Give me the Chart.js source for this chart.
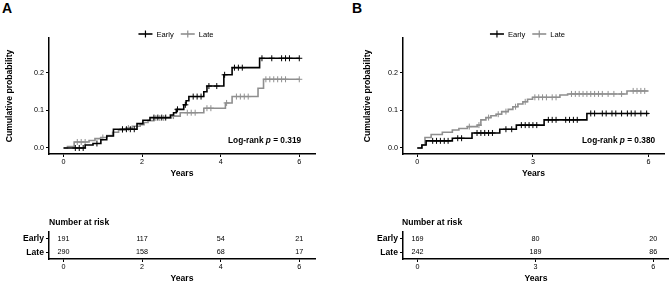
<!DOCTYPE html>
<html><head><meta charset="utf-8">
<script src="https://cdn.jsdelivr.net/npm/chart.js@4"></script>
<style>
body{margin:0;width:669px;height:285px;background:#fff;position:relative;overflow:hidden;font-family:"Liberation Sans",Arial,sans-serif;}
canvas{position:absolute;display:block;}
.lbl{position:absolute;font-weight:bold;color:#000;white-space:nowrap;line-height:1;}
</style></head><body>
<div class="lbl" style="left:2px;top:1px;font-size:14px">A</div>
<div class="lbl" style="left:352px;top:1px;font-size:14px">B</div>
<canvas id="kmA" width="330" height="180" style="left:0;top:0"></canvas>
<canvas id="kmB" width="339" height="180" style="left:330px;top:0"></canvas>
<canvas id="rkA" width="330" height="85" style="left:0;top:200px"></canvas>
<canvas id="rkB" width="339" height="85" style="left:330px;top:200px"></canvas>
<div class="lbl" style="left:228px;top:136px;font-size:8.3px">Log-rank <i>p</i> = 0.319</div>
<div class="lbl" style="left:582px;top:136px;font-size:8.3px">Log-rank <i>p</i> = 0.380</div>
<div class="lbl" style="left:49px;top:218px;font-size:8.6px">Number at risk</div>
<div class="lbl" style="left:402px;top:218px;font-size:8.6px">Number at risk</div>
<script>
// ---- data ----
const groups = ['Early', 'Late'];
const yTicks = [0, 0.1, 0.2];
const xTicksA = [0, 2, 4, 6];
const xTicksB = [0, 3, 6];

// Panel A: event times and cumulative probability (last entry = end of follow-up)
const timesEarlyA = [0, 0.55, 0.75, 0.95, 1.1, 1.27, 1.87, 2.02, 2.2, 2.72, 2.8, 2.87, 3.06, 3.12, 3.19, 3.57, 3.65, 4.08, 4.29, 4.99, 6.0];
const cumEarlyA   = [0, 0.008, 0.012, 0.022, 0.032, 0.05, 0.065, 0.074, 0.081, 0.088, 0.094, 0.103, 0.115, 0.126, 0.137, 0.15, 0.165, 0.195, 0.214, 0.239, 0.239];
const timesLateA  = [0, 0.1, 0.27, 0.65, 0.8, 0.95, 1.1, 1.25, 1.4, 1.6, 1.75, 1.95, 2.05, 2.15, 2.3, 2.75, 2.97, 3.57, 4.12, 4.29, 4.95, 5.09, 6.0];
const cumLateA    = [0, 0.004, 0.016, 0.02, 0.025, 0.028, 0.033, 0.042, 0.048, 0.053, 0.058, 0.062, 0.068, 0.073, 0.08, 0.085, 0.094, 0.106, 0.12, 0.137, 0.159, 0.183, 0.183];
const censorEarlyA = [0.3, 0.4, 0.5, 0.85, 1.5, 1.6, 1.7, 1.8, 2.3, 2.4, 2.5, 2.6, 2.9, 3.1, 3.3, 3.4, 3.5, 3.7, 3.9, 4.1, 4.35, 4.45, 4.55, 5.05, 5.3, 5.55, 5.65, 5.75, 6.0];
const censorLateA  = [0.35, 0.45, 0.55, 1.0, 1.5, 1.65, 2.35, 2.45, 2.55, 2.8, 3.15, 3.25, 3.35, 3.65, 3.75, 4.15, 4.4, 4.5, 4.6, 4.7, 5.15, 5.25, 5.35, 5.45, 5.55, 5.65, 6.0];

// Panel B
const timesEarlyB = [0, 0.12, 0.23, 0.91, 1.42, 2.14, 2.57, 3.29, 4.4, 6.0];
const cumEarlyB   = [0, 0.008, 0.019, 0.026, 0.04, 0.05, 0.061, 0.075, 0.092, 0.092];
const timesLateB  = [0, 0.12, 0.2, 0.36, 0.65, 0.91, 1.08, 1.3, 1.56, 1.65, 1.78, 1.91, 2.05, 2.19, 2.36, 2.48, 2.61, 2.74, 2.86, 2.99, 3.7, 3.9, 5.44, 6.0];
const cumLateB    = [0, 0.008, 0.028, 0.036, 0.042, 0.048, 0.052, 0.057, 0.061, 0.075, 0.081, 0.086, 0.09, 0.097, 0.103, 0.11, 0.117, 0.123, 0.13, 0.135, 0.141, 0.144, 0.152, 0.152];
const censorEarlyB = [0.4, 0.5, 0.6, 0.7, 0.8, 1.05, 1.15, 1.55, 1.65, 1.75, 1.85, 1.95, 2.3, 2.45, 2.7, 2.8, 2.9, 3.0, 3.1, 3.4, 3.5, 3.6, 3.85, 3.95, 4.05, 4.15, 4.5, 4.6, 4.8, 4.9, 5.05, 5.15, 5.3, 5.45, 5.55, 5.65, 5.8, 5.95];
const censorLateB  = [1.35, 1.6, 1.85, 2.1, 2.3, 2.55, 2.8, 3.05, 3.15, 3.25, 3.35, 3.5, 3.6, 4.0, 4.1, 4.2, 4.3, 4.4, 4.5, 4.6, 4.7, 4.8, 4.95, 5.1, 5.3, 5.6, 5.7, 5.8, 5.9];

// Number at risk
const riskTimesA = [0, 2, 4, 6];
const riskEarlyA = [191, 117, 54, 21];
const riskLateA  = [290, 158, 68, 17];
const riskTimesB = [0, 3, 6];
const riskEarlyB = [169, 80, 20];
const riskLateB  = [242, 189, 86];

// ---- styling ----
const FONT = '"Liberation Sans", Arial, sans-serif';
const COL_EARLY = '#000000';
const COL_LATE = '#8f8f8f';
const X_MIN = -0.37, X_MAX = 6.4;

function stepAt(times, cum, t) {
  let v = cum[0];
  for (let i = 0; i < times.length; i++) { if (times[i] <= t) v = cum[i]; }
  return v;
}

const legendPlugin = {
  id: 'kmLegend',
  afterDraw(chart, args, opts) {
    const ctx = chart.ctx;
    ctx.save();
    ctx.font = '7.6px ' + FONT;
    ctx.textBaseline = 'middle';
    const lineW = 14, gap = 4, itemGap = 7;
    const items = opts.items;
    let total = 0;
    items.forEach((it, i) => { total += lineW + gap + ctx.measureText(it.label).width + (i < items.length - 1 ? itemGap : 0); });
    let x = (chart.chartArea.left + chart.chartArea.right) / 2 + opts.dx - total / 2;
    const y = opts.y;
    items.forEach(it => {
      ctx.strokeStyle = it.color; ctx.lineWidth = 1.6;
      ctx.beginPath(); ctx.moveTo(x, y); ctx.lineTo(x + lineW, y); ctx.stroke();
      ctx.lineWidth = 1.2;
      ctx.beginPath(); ctx.moveTo(x + lineW / 2, y - 3.5); ctx.lineTo(x + lineW / 2, y + 3.5); ctx.stroke();
      ctx.fillStyle = '#000';
      ctx.fillText(it.label, x + lineW + gap, y + 0.5);
      x += lineW + gap + ctx.measureText(it.label).width + itemGap;
    });
    ctx.restore();
  }
};

const riskPlugin = {
  id: 'riskNums',
  afterDraw(chart, args, opts) {
    const ctx = chart.ctx, xs = chart.scales.x, ys = chart.scales.y;
    ctx.save();
    ctx.font = '7.2px ' + FONT;
    ctx.fillStyle = '#000';
    ctx.textAlign = 'center';
    ctx.textBaseline = 'middle';
    opts.rows.forEach((row, i) => {
      row.forEach((v, j) => {
        ctx.fillText(String(v), xs.getPixelForValue(opts.times[j]), ys.getPixelForValue(i));
      });
    });
    ctx.restore();
  }
};

function xScale(ticks) {
  return {
    type: 'linear', min: X_MIN, max: X_MAX,
    afterBuildTicks: s => { s.ticks = ticks.map(v => ({ value: v })); },
    afterFit: s => { s.height = 26; },
    ticks: { font: { family: FONT, size: 7.2 }, color: '#000', padding: 1, maxRotation: 0, autoSkip: false, callback: v => String(v) },
    grid: { display: true, drawOnChartArea: false, drawTicks: true, tickLength: 3, color: '#000', tickColor: '#000', tickWidth: 1 },
    border: { display: true, color: '#000', width: 1.5 },
    title: { display: true, text: 'Years', color: '#000', font: { family: FONT, size: 8.6, weight: 'bold' }, padding: { top: 0, bottom: 1 } }
  };
}

function kmChart(id, cfg) {
  const ds = [];
  cfg.series.forEach(s => {
    ds.push({
      data: s.times.map((t, i) => ({ x: t, y: s.cum[i] })),
      showLine: true, stepped: 'before', borderColor: s.color, borderWidth: 1.6,
      pointRadius: 0, fill: false
    });
    ds.push({
      data: s.censor.map(t => ({ x: t, y: stepAt(s.times, s.cum, t) })),
      showLine: false, pointStyle: 'cross', pointRadius: 3, borderColor: s.color,
      backgroundColor: s.color, pointBorderWidth: 1
    });
  });
  return new Chart(document.getElementById(id), {
    type: 'scatter',
    data: { datasets: ds },
    plugins: [legendPlugin],
    options: {
      responsive: false, animation: false, events: [],
      layout: { padding: { top: 38, right: cfg.padRight, bottom: 0, left: 0 } },
      plugins: {
        legend: { display: false }, tooltip: { enabled: false },
        kmLegend: { items: groups.map((g, i) => ({ label: g, color: i === 0 ? COL_EARLY : COL_LATE })), y: 34, dx: cfg.legendDx }
      },
      scales: {
        x: xScale(cfg.xTicks),
        y: {
          type: 'linear', min: -0.016, max: 0.293,
          afterBuildTicks: s => { s.ticks = yTicks.map(v => ({ value: v })); },
          afterFit: s => { s.width = cfg.yWidth; },
          ticks: { font: { family: FONT, size: 7.2 }, color: '#000', padding: 2, callback: v => v.toFixed(1) },
          grid: { display: true, drawOnChartArea: false, drawTicks: true, tickLength: 3, color: '#000', tickColor: '#000' },
          border: { display: true, color: '#000', width: 1.5 },
          title: { display: true, text: 'Cumulative probability', color: '#000', font: { family: FONT, size: 8.6, weight: 'bold' }, padding: { top: cfg.titlePad, bottom: 0 } }
        }
      }
    }
  });
}

function riskChart(id, cfg) {
  return new Chart(document.getElementById(id), {
    type: 'scatter',
    data: { datasets: [{ data: [] }] },
    plugins: [riskPlugin],
    options: {
      responsive: false, animation: false, events: [],
      layout: { padding: { top: 32, right: cfg.padRight, bottom: 0, left: 0 } },
      plugins: {
        legend: { display: false }, tooltip: { enabled: false },
        riskNums: { times: cfg.times, rows: cfg.rows }
      },
      scales: {
        x: xScale(cfg.xTicks),
        y: {
          type: 'category', labels: groups, offset: true,
          afterFit: s => { s.width = cfg.yWidth; },
          ticks: { font: { family: FONT, size: 8.6, weight: 'bold' }, color: '#000', padding: 2 },
          grid: { display: true, drawOnChartArea: false, drawTicks: true, tickLength: 3, color: '#000', tickColor: '#000' },
          border: { display: true, color: '#000', width: 1.5 }
        }
      }
    }
  });
}

kmChart('kmA', {
  xTicks: xTicksA, padRight: 15, yWidth: 49, titlePad: 4.5, legendDx: -6,
  series: [
    { times: timesEarlyA, cum: cumEarlyA, censor: censorEarlyA, color: COL_EARLY },
    { times: timesLateA, cum: cumLateA, censor: censorLateA, color: COL_LATE }
  ]
});
kmChart('kmB', {
  xTicks: xTicksB, padRight: 0, yWidth: 73, titlePad: 32.5, legendDx: -6,
  series: [
    { times: timesEarlyB, cum: cumEarlyB, censor: censorEarlyB, color: COL_EARLY },
    { times: timesLateB, cum: cumLateB, censor: censorLateB, color: COL_LATE }
  ]
});
riskChart('rkA', { xTicks: xTicksA, padRight: 15, yWidth: 49, times: riskTimesA, rows: [riskEarlyA, riskLateA] });
riskChart('rkB', { xTicks: xTicksB, padRight: 0, yWidth: 73, times: riskTimesB, rows: [riskEarlyB, riskLateB] });
</script>
</body></html>
